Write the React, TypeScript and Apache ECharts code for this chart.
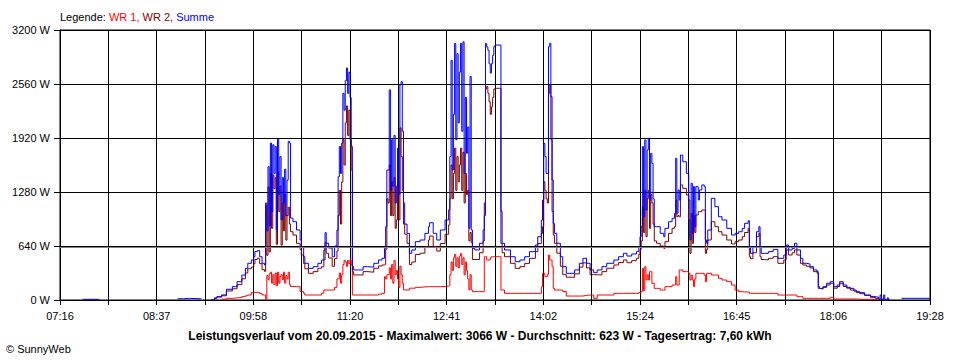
import React, { useEffect, useRef } from "react";
import * as echarts from "echarts";

// ---- data ----
const times = [
  "07:35","07:48","07:49","08:55","09:00","09:05","09:14","09:15","09:23","09:26",
  "09:28","09:32","09:36","09:41","09:45","09:49","09:52","09:54","09:57","09:59",
  "10:00","10:02","10:04","10:06","10:08","10:09","10:10","10:11","10:12","10:13",
  "10:14","10:15","10:16","10:17","10:18","10:19","10:20","10:21","10:22","10:23",
  "10:24","10:25","10:26","10:27","10:28","10:29","10:30","10:32","10:35","10:38",
  "10:39","10:41","10:42","10:45","10:49","10:53","10:56","10:58","10:59","11:00",
  "11:02","11:05","11:07","11:09","11:10","11:11","11:12","11:13","11:14","11:15",
  "11:16","11:17","11:18","11:19","11:20","11:21","11:22","11:23","11:27","11:31",
  "11:35","11:40","11:44","11:47","11:49","11:50","11:51","11:52","11:53","11:54",
  "11:55","11:56","11:57","11:58","11:59","12:00","12:01","12:02","12:03","12:04",
  "12:05","12:06","12:08","12:10","12:12","12:15","12:19","12:23","12:26","12:27",
  "12:30","12:33","12:36","12:40","12:43","12:44","12:45","12:46","12:47","12:48",
  "12:49","12:50","12:51","12:52","12:53","12:54","12:55","12:56","12:57","12:58",
  "12:59","13:00","13:01","13:02","13:03","13:05","13:09","13:12","13:13","13:14",
  "13:15","13:16","13:17","13:18","13:19","13:20","13:21","13:22","13:26","13:27",
  "13:28","13:30","13:35","13:39","13:43","13:47","13:51","13:56","13:58","14:01",
  "14:02","14:03","14:04","14:05","14:06","14:07","14:08","14:09","14:10","14:11",
  "14:12","14:14","14:17","14:19","14:22","14:25","14:29","14:33","14:36","14:39",
  "14:42","14:45","14:48","14:52","14:56","15:02","15:06","15:10","15:13","15:17",
  "15:21","15:23","15:24","15:25","15:26","15:27","15:28","15:29","15:30","15:31",
  "15:32","15:33","15:34","15:35","15:36","15:38","15:41","15:44","15:45","15:48",
  "15:51","15:53","15:54","15:55","15:56","15:57","15:58","16:00","16:03","16:05",
  "16:06","16:07","16:08","16:09","16:10","16:11","16:13","16:14","16:16","16:18",
  "16:19","16:20","16:21","16:24","16:27","16:30","16:33","16:37","16:41","16:44",
  "16:47","16:50","16:52","16:55","16:56","16:57","16:59","17:02","17:04","17:05",
  "17:06","17:09","17:12","17:16","17:20","17:25","17:27","17:29","17:32","17:34",
  "17:36","17:39","17:41","17:44","17:47","17:50","17:53","17:54","17:55","17:58",
  "18:01","18:04","18:07","18:10","18:12","18:15","18:18","18:21","18:24","18:26",
  "18:29","18:33","18:38","18:42","18:45","18:46","18:47","18:49","18:50","18:52",
  "18:53","18:54","19:04","19:28",
];

const summe = [
  8,8,null,15,20,15,15,null,0,25,
  40,60,127,158,217,296,375,435,474,513,
  573,585,513,435,415,1150,820,1580,880,1860,
  1050,1840,1500,1820,830,1910,1250,1700,950,1450,
  1150,1550,1000,1420,1880,1860,970,928,830,711,
  632,513,435,375,395,435,474,593,798,672,
  616,513,640,830,1460,1820,1500,1860,2450,2250,
  2600,2750,2450,2700,2400,1820,395,356,356,395,
  390,435,474,494,612,870,1540,1540,2490,1300,
  1900,1350,1950,1150,1350,1800,1250,2550,2588,2000,
  1150,900,790,553,593,691,711,790,869,916,
  790,711,830,948,1067,1700,2840,1540,2200,3040,
  1900,2920,2100,2700,3040,2000,3060,1500,2400,1740,
  2050,850,2650,830,612,593,672,830,1150,3040,
  3000,2960,2800,2690,2800,2900,3002,3022,3022,672,
  672,593,513,454,474,513,573,652,750,948,
  1185,1857,1700,1500,1500,3002,3042,2410,1422,909,
  790,672,513,395,316,316,356,435,494,435,
  356,324,356,395,435,474,513,553,521,545,
  573,632,750,869,1817,987,1896,1067,1778,1916,
  1185,1738,1620,1200,869,869,790,750,849,928,
  968,1027,1679,1027,1304,1185,1718,1639,1501,1185,
  711,1383,790,1343,869,1343,1185,1304,1363,1343,
  711,672,830,1205,1106,987,948,849,770,790,
  809,849,909,940,632,553,632,809,869,632,
  553,553,573,600,494,533,652,593,612,672,
  593,494,435,427,395,356,336,158,138,158,
  198,217,158,178,217,178,150,138,118,99,
  87,59,40,32,8,59,8,59,0,25,
  0,null,20,20,
];

const wr1 = [
  null,null,null,null,null,null,null,null,null,null,
  null,10,20,25,30,40,50,60,90,90,
  90,90,75,60,60,0,290,240,310,330,
  200,300,180,320,170,330,200,280,300,240,
  330,200,290,250,330,180,160,158,158,99,
  99,80,59,59,59,59,80,118,118,118,
  118,118,150,250,250,320,200,300,420,470,
  450,400,470,430,474,420,59,59,59,59,
  59,59,70,79,276,250,300,300,380,250,
  420,200,470,300,350,250,150,400,300,200,
  120,118,118,140,140,150,155,158,158,158,
  158,158,160,165,170,300,450,350,500,540,
  400,500,380,520,550,420,500,300,450,350,
  250,120,300,120,99,99,99,99,513,513,
  474,474,474,500,513,513,513,513,513,118,
  118,79,79,79,79,79,79,79,79,158,
  316,316,276,276,300,533,474,474,395,138,
  118,118,118,100,47,47,47,47,55,59,
  59,20,59,59,59,79,79,79,79,79,
  79,90,91,100,375,111,395,237,300,237,
  336,336,197,200,138,138,118,118,158,158,
  178,178,276,178,178,356,356,336,336,316,
  237,296,237,158,250,316,316,316,316,296,
  217,316,316,296,296,257,237,217,178,118,
  99,95,95,95,79,79,79,79,79,79,
  79,79,79,79,59,59,59,59,59,59,
  40,40,20,20,20,20,20,20,20,20,
  20,32,12,12,12,12,12,12,12,8,
  8,8,8,8,0,null,null,null,null,null,
  null,null,null,null,
];

const wr2 = [
  null,null,null,null,null,null,null,null,0,20,
  35,50,107,133,182,251,320,370,390,430,
  480,495,430,360,340,1120,530,1340,570,1500,
  850,1480,1320,1450,660,1520,1050,1350,650,1150,
  820,1250,710,1000,1100,900,810,770,672,600,
  533,433,370,316,336,376,394,475,680,554,
  498,400,490,580,1000,1300,900,1400,1900,1600,
  2100,2300,1950,2250,1900,1540,336,297,297,336,
  330,376,404,415,420,600,1200,1150,1600,1000,
  1400,1000,1450,850,950,1400,950,2040,1700,1300,
  900,780,672,420,450,540,555,632,711,758,
  632,580,670,780,890,1200,1600,1200,1500,1800,
  1300,1700,1400,1600,1800,1300,1750,1150,1500,1250,
  1300,700,800,680,480,480,560,700,1000,2500,
  2530,2450,2350,2200,2290,2400,2500,2509,2509,1050,
  560,513,435,375,395,434,494,573,670,790,
  870,1400,1300,1200,1150,2450,2550,1900,1050,770,
  672,555,400,300,270,270,310,390,440,380,
  300,300,297,336,376,415,443,474,442,466,
  494,542,600,700,1100,800,1300,750,1200,1300,
  850,1250,1150,900,700,672,640,612,691,790,
  849,870,1185,987,1000,987,1363,1323,1244,948,
  553,1027,672,1000,800,1008,1047,1047,1067,1060,
  553,600,711,928,869,809,770,711,664,691,
  711,750,800,849,513,490,560,750,790,513,
  480,474,494,513,435,474,593,533,560,593,
  533,435,415,400,380,336,316,138,130,150,
  178,198,140,160,198,160,140,118,105,87,
  75,55,32,20,8,12,8,12,0,0,
  0,null,null,null,
];

const yTicks = [0, 640, 1280, 1920, 2560, 3200];
const xStart = "07:16";
const xEnd = "19:28";
const xDivisions = 18;
const average = 623;

const legendParts = ["Legende: ", "WR 1, ", "WR 2, ", "Summe"];
const bottomTitle =
  "Leistungsverlauf vom 20.09.2015 - Maximalwert: 3066 W - Durchschnitt: 623 W - Tagesertrag: 7,60 kWh";
const copyright = "© SunnyWeb";

const FONT = "'Liberation Sans', Arial, sans-serif";

const toSec = (t: string) => {
  const [h, m] = t.split(":").map(Number);
  return (h * 60 + m) * 60;
};
const startSec = toSec(xStart);
const spanSec = toSec(xEnd) - startSec;
const stepSec = spanSec / xDivisions;

const pairs = (vals: (number | null)[]) =>
  times.map((t, i) => [toSec(t) - startSec, vals[i] == null ? "-" : vals[i]]);

const pad = (n: number) => (n < 10 ? "0" + n : "" + n);

export default function App() {
  const ref = useRef<HTMLDivElement>(null);
  useEffect(() => {
    if (!ref.current) return;
    const chart = echarts.init(ref.current, undefined, { renderer: "svg" });
    const yMax = yTicks[yTicks.length - 1];
    const yInt = yTicks[1] - yTicks[0];
    chart.setOption({
      animation: false,
      title: [
        {
          text: `{k|${legendParts[0]}}{a|${legendParts[1]}}{b|${legendParts[2]}}{c|${legendParts[3]}}`,
          left: 60,
          top: 11,
          padding: 0,
          textStyle: {
            fontSize: 11,
            fontWeight: "normal",
            fontFamily: FONT,
            rich: {
              k: { color: "#000000", fontSize: 11, fontFamily: FONT },
              a: { color: "#ff0000", fontSize: 11, fontFamily: FONT },
              b: { color: "#800000", fontSize: 11, fontFamily: FONT },
              c: { color: "#0000ff", fontSize: 11, fontFamily: FONT },
            },
          },
        },
        {
          text: bottomTitle,
          left: "center",
          top: 330,
          padding: 0,
          textStyle: { fontSize: 12, fontWeight: "bold", fontFamily: FONT, color: "#000" },
        },
        {
          text: copyright,
          left: 6,
          top: 343,
          padding: 0,
          textStyle: { fontSize: 11, fontWeight: "normal", fontFamily: FONT, color: "#000" },
        },
      ],
      grid: {
        left: 60,
        right: 30,
        top: 30,
        bottom: 60,
        show: true,
        borderColor: "#000",
        borderWidth: 1,
        backgroundColor: "transparent",
      },
      xAxis: {
        type: "value",
        min: 0,
        max: spanSec,
        interval: stepSec,
        axisLine: { show: true, lineStyle: { color: "#000", width: 1 } },
        axisTick: { show: true, length: 5, lineStyle: { color: "#000" } },
        splitLine: { show: true, lineStyle: { color: "#000", width: 1 } },
        axisLabel: {
          show: true,
          showMinLabel: true,
          showMaxLabel: true,
          margin: 10,
          color: "#000",
          fontSize: 11,
          fontFamily: FONT,
          formatter: (v: number) => {
            const idx = Math.round(v / stepSec);
            if (idx % 2 !== 0) return "";
            const mins = Math.floor((startSec + v) / 60 + 1e-6);
            return pad(Math.floor(mins / 60)) + ":" + pad(mins % 60);
          },
        },
      },
      yAxis: {
        type: "value",
        min: 0,
        max: yMax,
        interval: yInt,
        axisLine: { show: true, lineStyle: { color: "#000", width: 1 } },
        axisTick: { show: true, length: 6, lineStyle: { color: "#000" } },
        splitLine: { show: true, lineStyle: { color: "#000", width: 1 } },
        axisLabel: {
          margin: 10,
          color: "#000",
          fontSize: 11,
          fontFamily: FONT,
          formatter: (v: number) => `${v} W`,
        },
      },
      series: [
        {
          name: "WR 1",
          type: "line",
          step: "end",
          data: pairs(wr1),
          showSymbol: false,
          symbol: "none",
          silent: true,
          lineStyle: { color: "#ff0000", width: 1 },
          itemStyle: { color: "#ff0000" },
          markLine: {
            silent: true,
            symbol: "none",
            label: { show: false },
            lineStyle: { color: "#808080", width: 1, type: "solid" },
            data: [{ yAxis: average }],
          },
        },
        {
          name: "WR 2",
          type: "line",
          step: "end",
          data: pairs(wr2),
          showSymbol: false,
          symbol: "none",
          silent: true,
          lineStyle: { color: "#800000", width: 1 },
          itemStyle: { color: "#800000" },
        },
        {
          name: "Summe",
          type: "line",
          step: "end",
          data: pairs(summe),
          showSymbol: false,
          symbol: "none",
          silent: true,
          lineStyle: { color: "#0000ff", width: 1 },
          itemStyle: { color: "#0000ff" },
        },
      ],
    });
    return () => chart.dispose();
  }, []);
  return (
    <div
      ref={ref}
      style={{ position: "fixed", left: 0, top: 0, width: 960, height: 360, background: "#fff" }}
    />
  );
}
